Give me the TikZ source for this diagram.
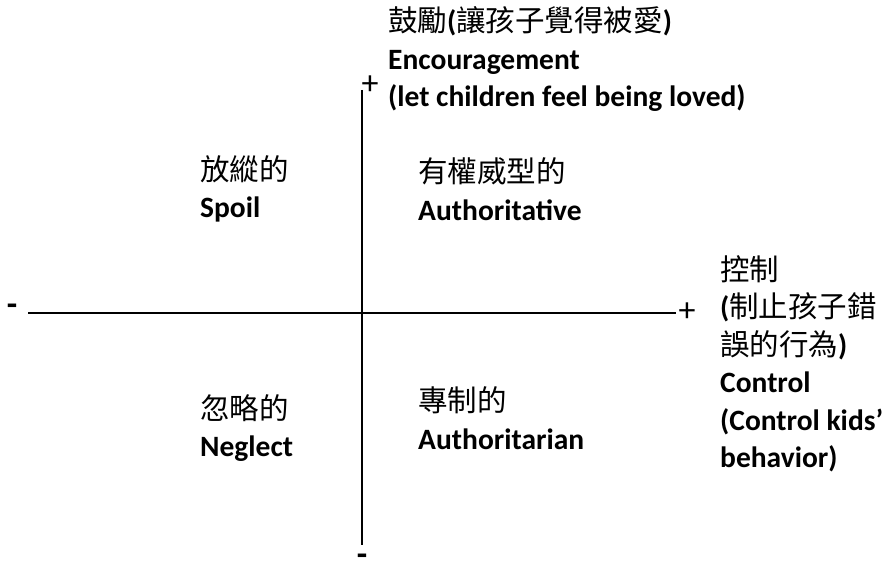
\documentclass[tikz,border=0pt]{standalone}
\usepackage{fontspec}
\setmainfont{Carlito}
\newfontfamily\cjk{Noto Sans CJK TC}
\usepackage{tikz}

\begin{document}
\begin{tikzpicture}[x=1pt,y=-1pt,
    lbl/.style={anchor=west,align=left,inner sep=0pt,font=\fontsize{29.5}{37.5}\selectfont},
    sgn/.style={inner sep=0pt,font=\fontsize{34}{34}\selectfont}]
      \useasboundingbox (0,0) rectangle (884,564);
      % axes
      \coordinate (left) at (28,313);
      \coordinate (right) at (676,313);
      \coordinate (top) at (362,90);
      \coordinate (bottom) at (362,545);
      \draw[line width=1.3pt] (left) -- (right);
      \draw[line width=1.3pt] (top) -- (bottom);
      \node[sgn] (plustop) at (370,85) {+};
      \node[sgn,font=\bfseries\fontsize{34}{34}\selectfont] (minusleft) at (12,310) {-};
      \node[sgn] (plusright) at (687,312) {+};
      \node[sgn,anchor=base,font=\bfseries\fontsize{34}{34}\selectfont] (minusbottom) at (362,565) {-};
      % labels
      \node[lbl] (encourage) at (388,59) {{\cjk 鼓勵}\textbf{(}{\cjk 讓孩子覺得被愛}\textbf{)}\\
        \textbf{Encouragement}\\ \textbf{(let children feel being loved)}};
      \node[lbl] (control) at (720,364) {{\cjk 控制}\\ \textbf{(}{\cjk 制止孩子錯}\\
        {\cjk 誤的行為}\textbf{)}\\ \textbf{Control}\\ \textbf{(Control kids'}\\ \textbf{behavior)}};
      \node[lbl] (spoil) at (200,189) {{\cjk 放縱的}\\ \textbf{Spoil}};
      \node[lbl] (authoritative) at (418,189) {{\cjk 有權威型的}\\ \textbf{Authoritative}};
      \node[lbl] (neglect) at (200,428) {{\cjk 忽略的}\\ \textbf{Neglect}};
      \node[lbl] (authoritarian) at (418,418) {{\cjk 專制的}\\ \textbf{Authoritarian}};
    \end{tikzpicture}
\end{document}
